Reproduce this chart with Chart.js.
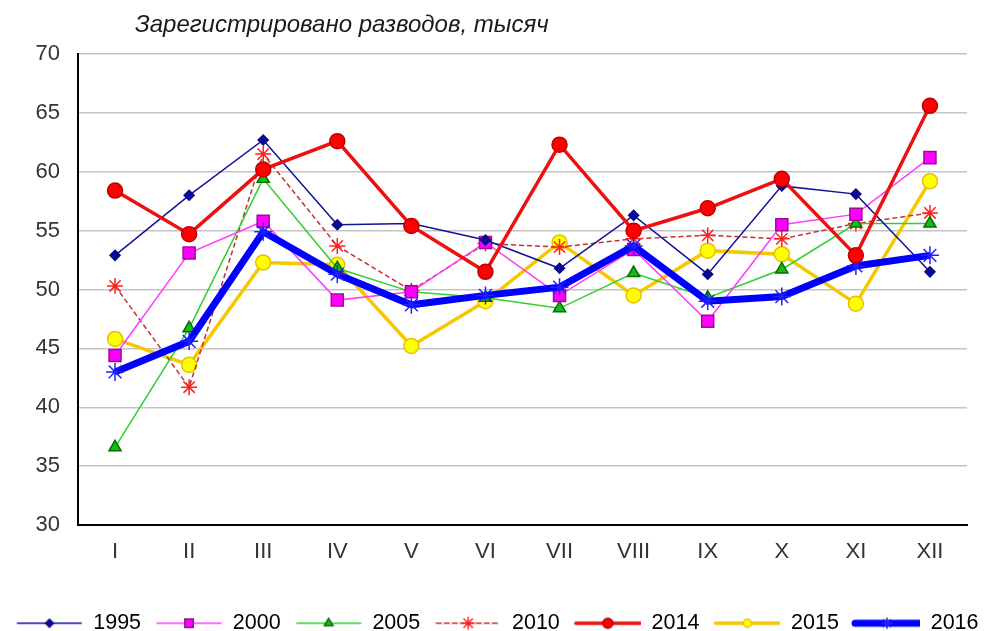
<!DOCTYPE html>
<html>
<head>
<meta charset="utf-8">
<script src="https://cdn.jsdelivr.net/npm/chart.js@4/dist/chart.umd.min.js"></script>
<style>
  body { margin: 0; background: #fff; }
</style>
</head>
<body>
<canvas id="chart" width="984" height="631"></canvas>
<script>
// месяцы
const months = ["I", "II", "III", "IV", "V", "VI", "VII", "VIII", "IX", "X", "XI", "XII"];
const years = ["1995", "2000", "2005", "2010", "2014", "2015", "2016"];

// тысяч разводов по месяцам
const y1995 = [52.9, 58.0, 62.7, 55.5, 55.6, 54.2, 51.8, 56.3, 51.3, 58.8, 58.1, 51.5];
const y2000 = [44.4, 53.1, 55.8, 49.1, 49.8, 54.0, 49.5, 53.4, 47.3, 55.5, 56.4, 61.2];
const y2005 = [36.6, 46.7, 59.4, 51.8, 49.8, 49.3, 48.4, 51.4, 49.3, 51.7, 55.6, 55.6];
const y2010 = [50.3, 41.7, 61.5, 53.7, 49.9, 53.9, 53.6, 54.3, 54.6, 54.3, 55.6, 56.5];
const y2014 = [58.4, 54.7, 60.2, 62.6, 55.4, 51.5, 62.3, 55.0, 56.9, 59.4, 52.9, 65.6];
const y2015 = [45.8, 43.6, 52.3, 52.1, 45.2, 49.0, 54.0, 49.5, 53.3, 53.0, 48.8, 59.2];
const y2016 = [43.0, 45.6, 54.9, 51.3, 48.7, 49.5, 50.2, 53.7, 49.0, 49.4, 52.0, 52.9];

const yTicks = [30, 35, 40, 45, 50, 55, 60, 65, 70];
const title = "Зарегистрировано разводов, тысяч";

const FONT = "'Liberation Sans', Arial, sans-serif";

// стиль линий
const styles = [
  { line: "#12129c", width: 1.5, point: "rectRot", r: 5, lr: 4, fill: "#0a0aa0", border: "#0a0a80", dash: [] },
  { line: "#ff3cff", width: 1.5, point: "rect", r: 8.5, lr: 6, fill: "#ff00ff", border: "#99108f", dash: [] },
  { line: "#30d030", width: 1.5, point: "triangle", r: 7, lr: 5, fill: "#10c010", border: "#0a6a0a", dash: [] },
  { line: "#c43030", width: 1.5, point: "star", r: 8, lr: 6, fill: "#ff2020", border: "#ff2020", dash: [5, 3] },
  { line: "#ee1010", width: 3.5, point: "circle", r: 7.5, lr: 5, fill: "#ff0000", border: "#c00000", dash: [] },
  { line: "#f5c800", width: 3.5, point: "circle", r: 7.5, lr: 4, fill: "#ffff00", border: "#e8c000", dash: [] },
  { line: "#0000ff", width: 7, point: "star", r: 9, lr: 5, fill: "#2020ff", border: "#2020ff", dash: [] },
];
const series = [y1995, y2000, y2005, y2010, y2014, y2015, y2016];

// картинка для легенды: линия с маркером
const legendImage = (s) => {
  const c = document.createElement("canvas");
  c.width = 77;
  c.height = 22;
  const g = c.getContext("2d");
  g.strokeStyle = s.line;
  g.lineWidth = s.width;
  g.lineCap = "round";
  g.setLineDash(s.dash);
  g.beginPath();
  g.moveTo(12, 11);
  g.lineTo(76, 11);
  g.stroke();
  g.setLineDash([]);
  g.fillStyle = s.fill;
  g.strokeStyle = s.border;
  g.lineWidth = 1.5;
  Chart.helpers.drawPoint(g, {
    pointStyle: s.point,
    radius: s.lr,
    borderWidth: 1.5,
    rotation: 0,
  }, 44, 11);
  return c;
};

const datasets = years.map((y, i) => {
  const s = styles[i];
  return {
    label: y,
    data: series[i],
    borderColor: s.line,
    borderWidth: s.width,
    borderDash: s.dash,
    pointStyle: s.point,
    pointRadius: s.r,
    pointBackgroundColor: s.fill,
    pointBorderColor: s.border,
    pointBorderWidth: 1.5,
    tension: 0,
    order: i === 6 ? -1 : i === 4 ? -2 : 0,
  };
});

// подпись сверху
const titlePlugin = {
  id: "topTitle",
  afterDraw(chart) {
    const ctx = chart.ctx;
    ctx.save();
    ctx.font = "italic 24px " + FONT;
    ctx.fillStyle = "#1a1a1a";
    ctx.textBaseline = "middle";
    ctx.fillText(title, 135, 25);
    ctx.restore();
  },
};

const ctx = document.getElementById("chart").getContext("2d");

const chart = new Chart(ctx, {
  type: "line",
  data: { labels: months, datasets: datasets },
  options: {
    responsive: false,
    animation: false,
    layout: { padding: { top: 54, right: 0, left: 0, bottom: -13 } },
    plugins: {
      tooltip: { enabled: false },
      legend: {
        position: "bottom",
        labels: {
          usePointStyle: true,
          pointStyleWidth: 77,
          padding: 4,
          color: "#1a1a1a",
          font: { family: FONT, size: 21.5 },
          generateLabels: (ch) => ch.data.datasets.map((d, i) => ({
            text: d.label,
            pointStyle: legendImage(styles[i]),
            fillStyle: styles[i].fill,
            strokeStyle: styles[i].line,
            lineWidth: 0,
            hidden: false,
            datasetIndex: i,
          })),
        },
      },
    },
    scales: {
      x: {
        offset: true,
        grid: { display: false, drawTicks: false },
        border: { display: true, color: "#000", width: 2 },
        ticks: { color: "#333", padding: 14, font: { family: FONT, size: 22 } },
        afterFit: (scale) => { scale.height = 83.5; },
      },
      y: {
        min: 30,
        max: 70,
        afterBuildTicks: (scale) => { scale.ticks = yTicks.map((v) => ({ value: v })); },
        grid: { color: "#c4c4c4", lineWidth: 1.5, drawTicks: false },
        border: { display: true, color: "#000", width: 2 },
        ticks: { color: "#333", padding: 18, font: { family: FONT, size: 22 } },
        afterFit: (scale) => { scale.width = 78; },
      },
      // пустое место справа
      yRight: {
        position: "right",
        grid: { display: false, drawTicks: false },
        border: { display: false },
        ticks: { display: false },
        afterFit: (scale) => { scale.width = 17; },
      },
    },
  },
  plugins: [titlePlugin],
});
</script>
</body>
</html>
